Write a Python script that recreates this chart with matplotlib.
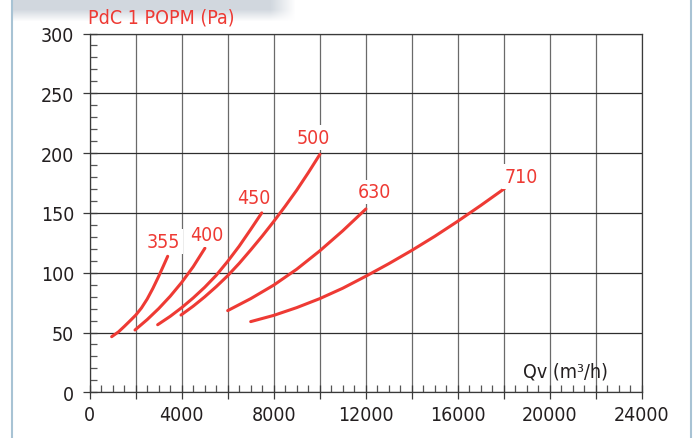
import numpy as np
import matplotlib.pyplot as plt
from matplotlib.ticker import MultipleLocator, FuncFormatter

plt.rcParams['font.family'] = ['DejaVu Sans']
plt.rcParams['font.stretch'] = 'condensed'

RED = '#ee3a34'
DARK = '#231f20'

# pressure drop curves, Qv (m3/h) -> Pa
sizes = ['355', '400', '450', '500', '630', '710']
qv_355 = [955, 1250, 1500, 1750, 2000, 2250, 2500, 2750, 3000, 3200, 3390]
pa_355 = [46.5, 50.5, 55.0, 59.7, 64.5, 70.5, 78.0, 87.0, 97.0, 105.5, 113.7]
qv_400 = [1970, 2500, 3000, 3500, 4000, 4500, 5010]
pa_400 = [52.1, 60.8, 70.0, 80.3, 91.9, 105.0, 120.5]
qv_450 = [2955, 3500, 4000, 4500, 5000, 5500, 6000, 6500, 7000, 7480]
pa_450 = [56.5, 63.5, 70.8, 78.9, 87.8, 97.8, 109.5, 122.2, 136.2, 150.0]
qv_500 = [3970, 4500, 5000, 5500, 6000, 6500, 7000, 7500, 8000, 8500, 9000, 9500, 10010]
pa_500 = [64.6, 72.0, 79.8, 88.3, 97.5, 107.8, 119.0, 130.6, 142.8, 155.6, 169.0, 183.5, 199.0]
qv_630 = [6000, 7000, 8000, 9000, 10000, 11000, 12010]
pa_630 = [68.3, 78.3, 89.6, 102.9, 118.2, 135.0, 153.3]
qv_710 = [7000, 8000, 9000, 10000, 11000, 12000, 13000, 14000, 15000, 16000, 17000, 18030]
pa_710 = [59.1, 64.3, 70.8, 78.3, 87.0, 97.0, 107.5, 118.6, 130.4, 143.0, 156.2, 170.3]

curves = [(qv_355, pa_355), (qv_400, pa_400), (qv_450, pa_450),
          (qv_500, pa_500), (qv_630, pa_630), (qv_710, pa_710)]
# label offset from curve end, in pixels
label_offsets = [(-4, 15), (2, 14), (-8, 15), (-7, 17), (9, 17), (17, 12)]

W, H = 693, 439
fig = plt.figure(figsize=(W / 100, H / 100), dpi=100)

# grey header strip with soft shadow
hdr = fig.add_axes([0, 1 - 26 / H, 1, 26 / H], zorder=-2)
xs = np.arange(W)
ys = np.arange(26)
a_y = np.clip((22 - ys) / 12.0, 0, 1)[:, None]
a_x = np.clip((295 - xs) / 25.0, 0, 1) * (xs >= 12)
img = np.zeros((26, W, 4))
img[..., 0] = 0.80
img[..., 1] = 0.83
img[..., 2] = 0.86
img[..., 3] = a_y * a_x[None, :] * 0.9
hdr.imshow(img, extent=(0, W, 26, 0), aspect='auto')
hdr.set_xlim(0, W)
hdr.set_ylim(26, 0)
hdr.axis('off')

# side borders
fig.add_artist(plt.Line2D([11.5 / W] * 2, [0, 1], color='#a8c3d4', lw=1.5))
fig.add_artist(plt.Line2D([690.5 / W] * 2, [0, 1], color='#a8c3d4', lw=1.5))

x0, x1, ytop, ybot = 89.7, 641.7, 34.5, 393.3
ax = fig.add_axes([x0 / W, 1 - ybot / H, (x1 - x0) / W, (ybot - ytop) / H])
ax.set_xlim(0, 24000)
ax.set_ylim(0, 300)

ax.xaxis.set_major_locator(MultipleLocator(2000))
ax.xaxis.set_minor_locator(MultipleLocator(500))
ax.xaxis.set_major_formatter(FuncFormatter(lambda v, p: '%d' % v if v % 4000 == 0 else ''))
ax.yaxis.set_major_locator(MultipleLocator(50))
ax.yaxis.set_minor_locator(MultipleLocator(10))

ax.grid(True, axis='x', which='major', color='#6a6a6a', lw=0.9)
ax.grid(True, axis='y', which='major', color='#2e2e2e', lw=0.9)
ax.tick_params(which='major', direction='inout', length=10, width=0.9,
               colors='#3a3a3a', labelcolor=DARK, labelsize=14)
ax.tick_params(which='minor', direction='in', length=5, width=0.9, colors='#555555')
ax.tick_params(axis='y', which='major', pad=6)
ax.tick_params(axis='x', which='major', pad=4)
for s in ax.spines.values():
    s.set_color('#3a3a3a')
    s.set_linewidth(0.9)

for name, (qv, pa), off in zip(sizes, curves, label_offsets):
    ax.plot(qv, pa, color=RED, lw=2.2, solid_capstyle='round', zorder=3)
    ax.annotate(name, (qv[-1], pa[-1]), xytext=off, textcoords='offset pixels',
                ha='center', va='center', color=RED, fontsize=14, zorder=4,
                bbox=dict(boxstyle='square,pad=0.15', fc='white', ec='none'))

fig.text(88 / W, 1 - 18 / H, 'PdC 1 POPM (Pa)', color=RED, fontsize=14,
         ha='left', va='center')
fig.text(565 / W, 1 - 372 / H, 'Qv (m³/h)', color=DARK, fontsize=14,
         ha='center', va='center', zorder=5)

fig.savefig('out.png', dpi=100)
